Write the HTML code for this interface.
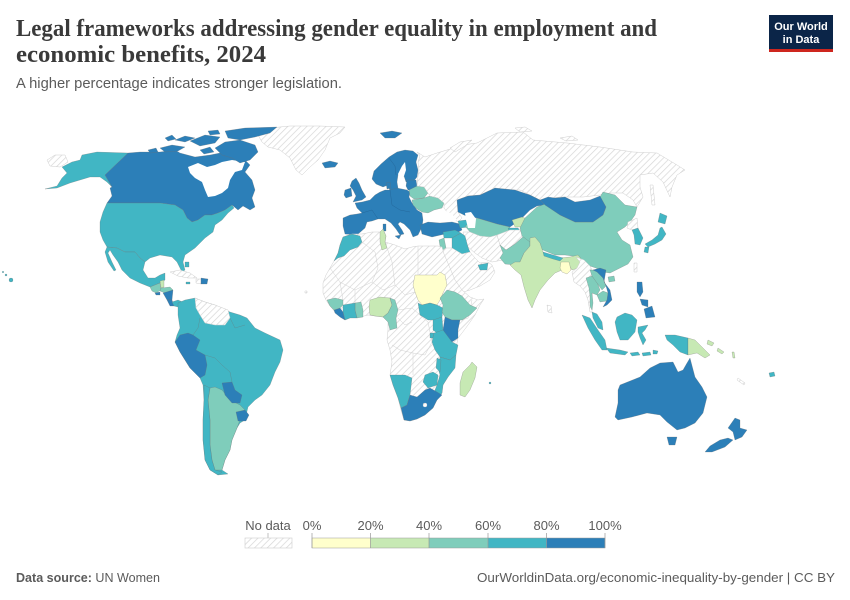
<!DOCTYPE html>
<html><head><meta charset="utf-8"><style>
html,body{margin:0;padding:0;background:#fff}
svg{display:block}
.c1{fill:#ffffcc}.c2{fill:#c7e9b4}.c3{fill:#7fcdbb}.c4{fill:#41b6c4}.c5{fill:#2c7fb8}
.c1,.c2,.c3,.c4,.c5{stroke:#6f6f6f;stroke-width:.35;stroke-opacity:.7}
.nd{fill:url(#h);stroke:#cfcfcf;stroke-width:.5}
.wt{fill:#fff;stroke:none}
.bl{fill:none;stroke:#d2d2d2;stroke-width:.5}
text{font-family:"Liberation Sans",sans-serif}
</style></head><body>
<svg width="850" height="600" viewBox="0 0 850 600" xmlns="http://www.w3.org/2000/svg">
<defs>
<pattern id="h" width="4.5" height="4.5" patternUnits="userSpaceOnUse" patternTransform="rotate(45)">
<rect width="4.5" height="4.5" fill="#fff"/><line x1="0" y1="0" x2="0" y2="4.5" stroke="#d6d6d6" stroke-width="1.4"/>
</pattern>
</defs>
<rect width="850" height="600" fill="#fff"/>

<!-- Header -->
<text x="16" y="36" style="font-family:'Liberation Serif',serif" font-size="24" font-weight="bold" fill="#3a3a3a" textLength="641" lengthAdjust="spacingAndGlyphs">Legal frameworks addressing gender equality in employment and</text>
<text x="16" y="62" style="font-family:'Liberation Serif',serif" font-size="24" font-weight="bold" fill="#3a3a3a" textLength="250" lengthAdjust="spacingAndGlyphs">economic benefits, 2024</text>
<text x="16" y="88" font-size="15" fill="#5b5b5b" textLength="326" lengthAdjust="spacingAndGlyphs">A higher percentage indicates stronger legislation.</text>
<rect x="769" y="15" width="64" height="37" fill="#0b2548"/>
<rect x="769" y="49" width="64" height="3" fill="#ce261e"/>
<text x="801" y="30" font-size="11" font-weight="bold" fill="#fff" text-anchor="middle">Our World</text>
<text x="801" y="43" font-size="11" font-weight="bold" fill="#fff" text-anchor="middle">in Data</text>

<!-- ===== North America ===== -->
<polygon class="nd" points="258,135 270,128 290,126 320,126 345,127 340,133 330,138 325,150 318,160 310,167 302,175 296,170 290,158 280,150 268,147 262,142"/>
<polygon class="nd" points="47,160 55,155 65,155 68,162 60,167 50,166"/>
<polygon class="c4" points="45,189 57,186 62,178 67,173 62,167 72,162 80,160 82,155 97,152 128,153 105,175 112,187 107,182 100,177 90,177 80,180 70,183 57,188"/>
<polygon class="c5" points="128,153 140,152 160,152 175,150 180,153 195,157 210,155 225,152 240,155 250,165 245,172 252,180 255,190 252,198 255,207 250,210 243,206 238,210 232,205 225,210 218,213 212,215 205,215 198,220 192,222 187,218 183,210 175,205 160,203 107,203 112,196 110,188 112,187 105,175"/>
<polygon class="wt" points="188,167 198,163 207,167 215,165 222,162 232,160 245,162 242,170 235,172 230,180 228,188 222,193 215,196 208,197 205,190 202,182 195,178 190,173"/>
<polygon class="c5" points="215,148 225,142 240,140 255,145 258,152 250,160 240,163 232,158 222,155"/>
<polygon class="c5" points="225,131 245,128 277,127 270,133 255,137 240,140 228,138"/>
<polygon class="c5" points="190,141 205,135 220,137 215,143 200,146"/>
<polygon class="c5" points="160,148 172,145 185,147 178,151 165,152"/>
<polygon class="c5" points="175,140 185,136 195,138 185,142"/>
<polygon class="c5" points="200,150 210,147 214,152 204,154"/>
<polygon class="c5" points="165,138 172,135 176,139 168,141"/>
<polygon class="c5" points="208,131 218,130 220,134 210,135"/>
<polygon class="c5" points="148,150 156,148 158,152 150,153"/>
<polygon class="c4" points="107,203 160,203 175,205 183,210 187,218 192,222 198,220 205,215 212,215 218,213 225,210 232,205 234,208 228,213 222,220 215,225 213,232 205,238 200,243 195,248 185,255 183,262 185,270 182,272 177,262 172,257 160,255 150,258 145,262 140,258 135,252 125,252 117,248 107,247 103,240 100,232 100,222 103,212"/>
<polygon class="c4" points="107,247 117,248 125,252 135,252 140,258 145,262 143,270 148,278 155,278 160,275 165,273 165,280 160,283 155,285 150,287 140,283 130,278 122,270 118,262 113,255 110,250 108,253 112,262 116,270 114,271 108,262 105,252"/>
<polygon class="c3" points="150,287 155,285 160,283 161,290 156,293 152,291"/>
<polygon class="c2" points="160,281 164,280 164,287 161,288"/>
<polygon class="c3" points="161,288 170,287 173,290 165,293 160,291"/>
<polygon class="c5" points="155,293 160,292 160,295 156,295"/>
<polygon class="c5" points="163,293 173,290 172,300 167,300"/>
<polygon class="c5" points="167,300 172,300 174,306 170,306"/>
<polygon class="c4" points="172,302 178,300 185,303 178,307 174,306"/>
<polygon class="nd" points="170,272 180,270 190,273 197,278 188,278 178,276"/>
<polygon class="nd" points="196,279 201,279 201,284 196,283"/>
<polygon class="c5" points="201,278 208,279 207,284 201,284"/>
<polygon class="c4" points="185,262 189,262 189,267 185,267"/>
<polygon class="c4" points="186,282 190,282 190,284 186,284"/>
<circle class="c4" cx="11" cy="280" r="2"/>
<circle class="c4" cx="6" cy="275" r="1"/>
<circle class="c4" cx="3" cy="272" r=".8"/>

<!-- ===== South America ===== -->
<polygon class="c4" points="178,303 185,300 195,298 205,302 215,305 230,312 240,315 247,318 255,328 265,333 280,340 283,350 280,362 275,372 270,385 262,395 255,400 248,407 245,420 240,423 237,428 232,440 230,450 225,460 222,470 228,474 218,475 210,470 205,460 203,440 203,420 204,400 203,385 200,378 190,368 180,352 175,342 177,335 180,328 178,315"/>
<polygon class="nd" points="195,298 205,302 215,305 228,310 230,318 225,325 215,325 205,323 200,315 196,308"/>
<polygon class="c5" points="175,342 180,335 188,333 193,335 200,340 196,350 205,355 207,365 205,375 200,378 190,368 180,352"/>
<polygon class="c3" points="210,388 215,387 222,390 230,400 240,405 245,410 240,420 237,428 232,440 230,450 225,460 222,470 215,470 212,460 210,445 210,420 208,400"/>
<polygon class="c4" points="204,385 210,388 208,400 210,420 210,445 212,460 215,470 222,472 218,475 210,470 205,460 203,440 203,420 204,400"/>
<polygon class="c5" points="222,383 232,382 235,390 242,395 240,403 232,403 225,395"/>
<polygon class="c5" points="236,412 245,410 249,415 246,421 238,421"/>
<polyline fill="none" stroke="#6f6f6f" stroke-width=".35" stroke-opacity=".7" points="193,335 198,328 200,318"/>
<polyline fill="none" stroke="#6f6f6f" stroke-width=".35" stroke-opacity=".7" points="205,355 215,358 222,365 230,372 232,382"/>
<polyline fill="none" stroke="#6f6f6f" stroke-width=".35" stroke-opacity=".7" points="230,318 235,328 245,325"/>

<!-- ===== Europe ===== -->
<polygon class="c5" points="380,133 392,131 402,133 395,138 385,138"/>
<polygon class="c5" points="322,163 330,161 338,163 335,167 325,168"/>
<polygon class="c5" points="372,179 374,171 381,164 389,157 397,152 405,150 413,151 418,155 416,162 418,170 417,177 413,182 406,182 404,176 398,175 397,182 398,188 395,192 390,191 388,185 383,187 376,184"/>
<polygon class="wt" points="398,174 402,166 405,162 406,170 404,176 399,178"/>
<polyline fill="none" stroke="#1f5f8f" stroke-width=".35" points="389,158 395,166 396,175 M405,162 408,156 410,152"/>
<polygon class="c5" points="386,183 390,182 391,188 387,189"/>
<polygon class="c5" points="407,180 416,180 417,186 414,190 408,190 406,186"/>
<polygon class="c5" points="343,218 350,215 357,214 362,213 357,208 355,203 362,202 370,200 375,195 380,192 385,190 390,190 397,188 407,190 410,192 409,197 412,203 417,210 422,213 423,220 422,227 418,235 413,237 410,230 406,226 404,224 400,222 398,224 402,230 404,234 400,235 396,229 391,223 385,219 378,219 372,221 367,222 365,228 357,235 345,234 343,226"/>
<polygon class="c5" points="383,224 386,224 386,231 383,231"/>
<polygon class="c5" points="395,236 401,235 399,239"/>
<polygon class="c5" points="352,181 356,178 359,183 362,190 366,197 362,200 353,202 356,196 353,190 350,186"/>
<polygon class="c5" points="345,190 351,188 352,196 346,198 344,195"/>
<polygon class="c3" points="409,190 417,186 424,187 428,193 424,198 414,199 410,196"/>
<polygon class="c3" points="412,200 424,198 430,196 438,198 444,203 442,208 434,210 428,213 422,212 417,209 413,205"/>
<polyline fill="none" stroke="#1f5f8f" stroke-width=".35" points="362,213 372,210 378,219 M380,192 383,205 378,219"/>
<polyline fill="none" stroke="#1f5f8f" stroke-width=".35" points="390,190 392,205 400,210 410,212"/>

<!-- ===== Russia ===== -->
<polygon class="nd" points="417,152 425,157 437,153 447,150 463,145 477,143 497,133 523,132 533,140 567,143 600,147 633,152 657,153 677,165 685,170 677,175 672,187 670,197 663,182 653,173 640,175 640,187 643,197 637,207 633,200 623,193 610,193 600,195 583,197 560,197 540,200 520,190 500,190 495,188 480,195 468,196 457,200 458,212 462,218 458,222 450,216 444,208 444,203 438,198 430,196 428,193 424,187 417,186 418,176 419,170 418,162 420,156"/>
<polygon class="nd" points="450,148 460,142 472,140 465,146 455,152"/>
<polygon class="nd" points="515,128 525,127 532,131 520,132"/>
<polygon class="nd" points="560,138 572,136 578,140 566,141"/>
<polygon class="nd" points="650,185 653,185 655,205 652,205"/>

<!-- ===== Middle East / Central Asia ===== -->
<polygon class="wt" points="424,214 434,212 444,210 452,214 457,220 450,222 440,222 428,221 423,218"/>
<polygon class="c5" points="420,225 428,222 440,223 452,222 460,224 462,230 455,234 445,234 432,237 422,234"/>
<polygon class="c4" points="458,221 466,220 469,227 460,228"/>
<polygon class="c5" points="457,200 468,196 480,195 495,188 515,190 530,195 540,200 545,205 537,206 530,210 520,220 510,227 497,224 477,218 466,216 458,212"/>
<polygon class="c3" points="465,226 477,218 497,224 510,227 508,232 500,236 490,237 478,236 470,232"/>
<polygon class="wt" points="465,213 471,212 476,219 475,228 468,228 466,220"/>
<polygon class="c2" points="512,220 522,217 530,220 528,227 515,227"/>
<polygon class="c4" points="508,228 518,228 522,233 510,234"/>
<polygon class="nd" points="463,232 470,232 480,236 490,237 497,235 500,245 505,252 503,260 492,262 482,258 475,253 468,247 465,240"/>
<polygon class="nd" points="497,235 510,230 520,230 524,236 515,244 506,250 500,245"/>
<polygon class="c3" points="500,245 506,250 515,244 524,236 530,238 530,246 524,253 520,262 515,265 505,264 500,258 503,253"/>
<polygon class="c4" points="443,232 455,230 461,233 452,238 444,238"/>
<polygon class="c4" points="452,238 461,233 465,236 468,247 470,252 462,254 452,248"/>
<polygon class="c3" points="439,240 444,238 446,248 441,252"/>
<polygon class="nd" points="440,252 446,248 452,248 462,254 470,252 475,258 480,263 488,262 492,265 495,272 490,280 480,286 470,290 460,293 455,290 450,278 445,265"/>
<polygon class="c4" points="478,265 488,263 487,270 480,270"/>

<!-- ===== South / East Asia ===== -->
<polygon class="c3" points="520,228 525,218 537,207 545,204 560,215 575,222 593,222 603,215 606,207 600,197 603,192 615,195 625,205 637,207 635,215 630,222 625,227 617,232 622,240 630,245 633,257 628,264 620,268 610,273 603,272 596,268 590,266 582,265 580,257 565,255 555,255 543,250 530,242 522,236"/>
<polygon class="c5" points="540,200 548,197 555,198 565,197 575,202 590,200 600,196 606,207 603,215 593,222 575,222 560,215 545,205"/>
<polygon class="c2" points="515,262 520,262 524,253 530,246 530,238 535,237 540,243 543,252 553,257 560,258 570,257 578,255 582,260 578,268 572,270 569,265 565,264 562,270 555,273 548,280 540,290 535,300 532,308 528,300 524,287 521,275 515,270 510,265"/>
<polygon class="c4" points="543,252 553,255 563,258 560,261 553,259 544,256"/>
<polygon class="c1" points="561,262 569,262 571,270 567,274 562,272 560,268"/>
<polygon class="nd" points="576,257 584,260 590,266 593,272 590,280 592,290 592,300 592,312 590,312 588,300 585,292 580,286 574,282 572,272 577,268 580,262"/>
<polygon class="nd" points="547,305 551,306 552,313 548,312"/>
<polygon class="c3" points="586,278 592,276 597,282 600,290 597,295 592,293 593,303 592,310 590,306 590,296 589,288"/>
<polygon class="c3" points="590,270 597,270 603,278 606,286 602,290 597,283 592,276"/>
<polygon class="c3" points="597,295 603,291 608,293 607,301 600,302"/>
<polygon class="c5" points="593,270 600,268 606,270 605,276 604,282 610,290 612,300 607,305 603,307 607,300 608,293 606,286 603,278 597,272"/>
<polygon class="c3" points="608,277 614,276 615,281 609,282"/>
<polygon class="nd" points="628,222 637,218 638,228 632,230 627,228"/>
<polygon class="c4" points="632,230 638,228 643,238 640,245 635,244 634,235"/>
<polygon class="c4" points="660,213 667,216 665,224 658,222"/>
<polygon class="c4" points="662,227 666,234 662,240 655,244 648,247 645,244 652,240 658,235 660,228"/>
<polygon class="c4" points="645,247 649,247 648,253 644,252"/>
<polygon class="nd" points="634,263 637,263 637,272 634,272"/>
<polygon class="c5" points="637,282 642,282 643,292 640,297 637,292"/>
<polygon class="c5" points="640,299 648,300 648,307 642,305"/>
<polygon class="c5" points="644,309 652,306 655,317 646,318"/>
<polygon class="c4" points="592,312 597,314 602,322 603,330 598,328 593,318"/>
<polygon class="c4" points="582,315 590,318 598,330 605,340 607,350 602,350 595,340 588,328"/>
<polygon class="c4" points="617,317 625,313 632,315 637,320 635,332 628,340 620,340 617,332 615,322"/>
<polygon class="c4" points="638,327 648,325 645,330 642,333 646,340 643,345 640,338 638,332"/>
<polygon class="c4" points="606,348 620,350 628,352 625,355 610,353"/>
<polygon class="c4" points="630,353 638,352 640,355 632,356"/>
<polygon class="c4" points="642,353 650,352 651,355 643,356"/>
<polygon class="c4" points="653,350 658,351 657,354 653,354"/>
<polygon class="c4" points="665,335 675,335 688,338 688,355 680,352 673,345 667,340"/>
<polygon class="c2" points="688,338 695,340 702,347 710,355 705,358 697,353 688,355"/>
<polygon class="c2" points="708,340 714,343 712,346 707,344"/>
<polygon class="c2" points="718,348 724,352 722,354 717,351"/>
<polygon class="c2" points="732,352 734,352 735,358 733,358"/>
<polygon class="nd" points="738,378 745,383 744,385 737,380"/>
<polygon class="c4" points="769,373 774,372 775,376 770,377"/>

<!-- ===== Oceania ===== -->
<polygon class="c5" points="618,390 620,385 640,377 650,368 660,363 673,362 678,372 683,370 687,363 690,358 695,377 702,387 707,397 703,413 695,423 685,428 677,430 667,422 660,415 647,413 632,417 618,420 615,417 618,403"/>
<polygon class="c5" points="667,437 677,437 675,445 669,445"/>
<polygon class="c5" points="735,418 740,420 740,428 747,430 742,437 735,440 733,432 728,428"/>
<polygon class="c5" points="728,438 733,440 725,447 712,452 705,452 710,446 720,440"/>

<!-- ===== Africa ===== -->
<polygon class="nd" points="343,237 352,234 362,234 372,232 380,232 383,229 386,236 385,242 395,245 405,249 412,247 418,246 428,246 438,246 442,247 444,254 450,268 455,280 462,290 470,297 478,300 484,299 480,305 475,315 468,325 462,333 458,338 456,348 455,358 454,368 448,377 443,385 442,393 437,400 433,408 425,415 417,419 410,421 404,420 401,410 398,398 393,385 390,375 392,362 390,350 387,340 388,330 388,322 383,317 375,316 368,315 360,317 352,317 345,320 340,317 335,312 330,306 326,300 323,293 323,283 326,275 330,268 334,261 338,253 340,245"/>
<polyline class="bl" points="362,242 375,252 378,268 372,282 355,290 340,282 330,268"/>
<polyline class="bl" points="385,242 392,262 395,285 383,290 372,282"/>
<polyline class="bl" points="418,246 418,275"/>
<polyline class="bl" points="395,285 405,295 415,292"/>
<polyline class="bl" points="398,310 412,308 420,315 428,322 432,342 425,355 413,353 400,350 392,345"/>
<polyline class="bl" points="398,318 405,325 412,322"/>
<polyline class="bl" points="413,353 413,375"/>
<polyline class="bl" points="355,290 355,303"/>
<polyline class="bl" points="340,282 343,300"/>
<polyline class="bl" points="472,300 468,318 462,320"/>
<polygon class="c4" points="343,237 352,234 360,236 362,242 358,247 350,250 344,256 338,258 334,261 338,253 340,245"/>
<polygon class="c2" points="380,232 383,229 386,236 385,242 387,248 382,250 380,242"/>
<polygon class="c1" points="415,275 437,275 440,272 445,275 447,285 443,293 440,300 437,305 430,303 422,305 418,300 415,292 413,285"/>
<polygon class="c4" points="418,303 422,305 430,303 437,305 443,308 442,317 435,320 428,320 420,315"/>
<polygon class="c3" points="440,298 447,290 455,292 462,296 470,305 477,308 470,315 462,320 452,320 445,317 442,312 443,305"/>
<polygon class="c5" points="445,317 452,320 460,320 458,330 458,338 452,342 445,337 443,330"/>
<polygon class="c4" points="433,320 442,317 443,330 437,333 433,330"/>
<polygon class="c4" points="430,333 434,333 433,338 430,338"/>
<polygon class="c4" points="434,333 443,330 452,342 458,345 456,355 450,360 440,357 435,350 432,342"/>
<polygon class="c4" points="440,357 450,360 456,355 455,368 448,377 443,385 442,393 437,400 433,395 437,385 440,375 438,368"/>
<polygon class="c4" points="437,358 441,360 440,372 436,368"/>
<polygon class="c4" points="425,375 433,372 438,375 437,385 428,388 423,382"/>
<polygon class="c4" points="390,375 405,375 412,378 410,395 407,405 401,408 398,398 393,385"/>
<polygon class="c5" points="401,408 407,405 410,395 417,397 425,390 430,388 437,392 442,395 437,400 433,408 425,415 417,419 410,421 404,420"/>
<circle cx="425" cy="405" r="2" fill="url(#h)" stroke="#cfcfcf" stroke-width=".4"/>
<polygon class="c2" points="370,300 380,297 390,298 392,305 388,313 383,317 375,316 370,315 369,307"/>
<polygon class="c3" points="383,317 388,313 392,305 390,298 395,300 398,310 396,318 397,328 390,330 388,322"/>
<polygon class="c3" points="355,303 361,302 363,310 363,317 357,318 355,310"/>
<polygon class="c4" points="343,305 355,303 355,310 357,318 350,318 345,320 343,312"/>
<polygon class="c5" points="334,310 340,308 343,312 345,320 340,317 335,313"/>
<polygon class="c3" points="327,300 335,298 343,300 343,305 340,308 334,310 330,306"/>
<polygon class="c2" points="472,362 477,367 475,378 470,390 465,397 460,395 460,383 463,372 470,365"/>
<circle class="c4" cx="490" cy="383" r="1"/>
<circle class="nd" cx="306" cy="292" r="1.2"/>

<!-- ===== Legend ===== -->
<text x="268" y="530" font-size="13" fill="#5b5b5b" text-anchor="middle">No data</text>
<line x1="268" y1="533" x2="268" y2="538" stroke="#999" stroke-width=".6"/>
<rect x="245" y="538" width="47" height="10" fill="url(#h)" stroke="#ccc" stroke-width=".6"/>
<rect x="312" y="538" width="58.5" height="10" fill="#ffffcc"/>
<rect x="370.5" y="538" width="58.5" height="10" fill="#c7e9b4"/>
<rect x="429" y="538" width="59" height="10" fill="#7fcdbb"/>
<rect x="488" y="538" width="58.5" height="10" fill="#41b6c4"/>
<rect x="546.5" y="538" width="58.5" height="10" fill="#2c7fb8"/>
<rect x="312" y="538" width="293" height="10" fill="none" stroke="#999" stroke-width=".5"/>
<g stroke="#999" stroke-width=".7">
<line x1="312" y1="533" x2="312" y2="548"/><line x1="370.5" y1="533" x2="370.5" y2="548"/>
<line x1="429" y1="533" x2="429" y2="548"/><line x1="488" y1="533" x2="488" y2="548"/>
<line x1="546.5" y1="533" x2="546.5" y2="548"/><line x1="605" y1="533" x2="605" y2="548"/>
</g>
<g font-size="13" fill="#5b5b5b" text-anchor="middle">
<text x="312" y="530">0%</text><text x="370.5" y="530">20%</text><text x="429" y="530">40%</text>
<text x="488" y="530">60%</text><text x="546.5" y="530">80%</text><text x="605" y="530">100%</text>
</g>

<!-- ===== Footer ===== -->
<text x="16" y="582" font-size="13" fill="#5b5b5b" textLength="144" lengthAdjust="spacingAndGlyphs"><tspan font-weight="bold">Data source:</tspan> UN Women</text>
<text x="835" y="582" font-size="13" fill="#5b5b5b" text-anchor="end" textLength="358" lengthAdjust="spacingAndGlyphs">OurWorldinData.org/economic-inequality-by-gender | CC BY</text>
</svg>
</body></html>
